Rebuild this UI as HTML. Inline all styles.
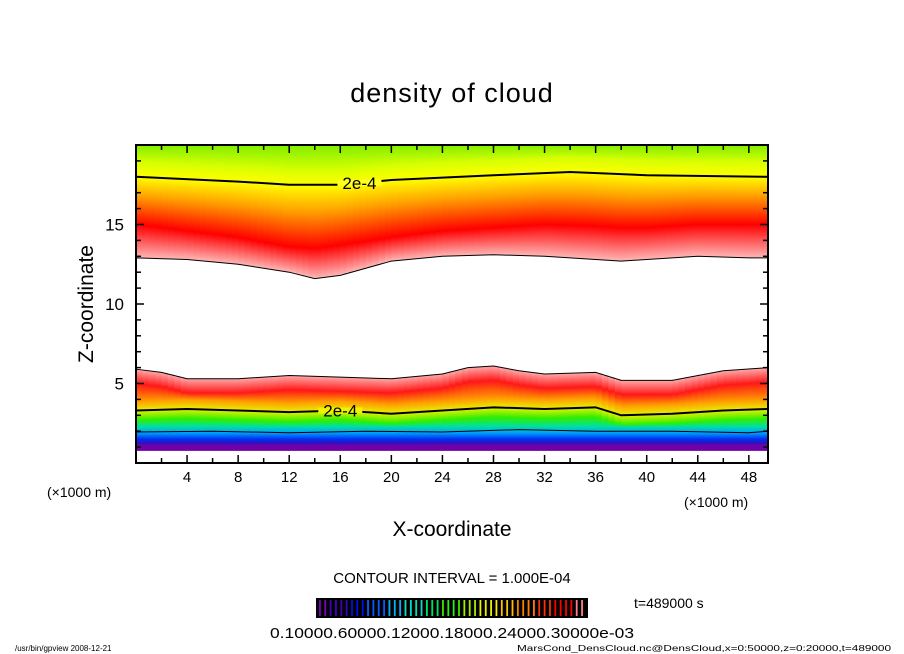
<!DOCTYPE html>
<html><head><meta charset="utf-8"><style>
html,body{margin:0;padding:0;background:#fff;}
svg{display:block;font-family:"Liberation Sans",sans-serif;}
</style></head><body>
<svg id="chart" width="904" height="654" viewBox="0 0 904 654" xmlns="http://www.w3.org/2000/svg">
<defs id="defs"></defs>
<g id="plot"></g>
<text x="452" y="102" text-anchor="middle" font-size="27" fill="#000" letter-spacing="1">density of cloud</text>
<text transform="translate(93,304) rotate(-90)" text-anchor="middle" font-size="21" fill="#000">Z-coordinate</text>
<text x="452" y="536" text-anchor="middle" font-size="21" fill="#000">X-coordinate</text>
<text x="47" y="497" font-size="14" fill="#000">(×1000 m)</text>
<text x="684" y="507" font-size="14" fill="#000">(×1000 m)</text>
<text x="452" y="583" text-anchor="middle" font-size="15" fill="#000">CONTOUR INTERVAL = 1.000E-04</text>
<text x="634" y="608" font-size="14" fill="#000">t=489000 s</text>
<g id="cbar"></g>
<text x="452" y="638" text-anchor="middle" font-size="15" fill="#000" textLength="364" lengthAdjust="spacingAndGlyphs">0.10000.60000.12000.18000.24000.30000e-03</text>
<text x="15" y="651" font-size="8" fill="#000">/usr/bin/gpview  2008-12-21</text>
<text x="517" y="651" font-size="8" fill="#000" textLength="374" lengthAdjust="spacingAndGlyphs">MarsCond_DensCloud.nc@DensCloud,x=0:50000,z=0:20000,t=489000</text>
</svg>
<script>
// ---- data (x in km, z in km) ----
const upperX = [0,4,8,12,14,16,20,24,28,32,36,38,40,44,48,50];
const upperEdge = [12.9,12.8,12.5,12.0,11.6,11.8,12.7,13.0,13.1,13.0,12.8,12.7,12.8,13.0,12.9,12.9];
const upperPeak = [15.0,14.6,14.2,13.6,13.5,13.7,14.2,14.6,14.8,15.0,14.9,14.8,14.8,15.0,15.0,15.0];
const upperContourX = [0,8,12,16,20,28,34,40,50];
const upperContour = [18.0,17.7,17.5,17.5,17.8,18.1,18.3,18.1,18.0];
const lowerX = [0,2,4,8,12,16,20,24,26,28,30,32,36,38,42,46,50];
const lowerEdge = [5.9,5.7,5.3,5.3,5.5,5.4,5.3,5.6,6.0,6.1,5.8,5.6,5.7,5.2,5.2,5.8,6.0];
const lowerContourX = [0,4,8,12,16,20,24,28,32,36,38,42,46,50];
const lowerContour = [3.3,3.4,3.3,3.2,3.3,3.1,3.3,3.5,3.4,3.5,3.0,3.1,3.3,3.4];
const lowerThinX = [0,6,12,18,24,30,36,42,48,50];
const lowerThin = [1.95,2.0,1.9,2.0,1.95,2.1,2.0,2.0,1.9,2.0];
const xTickLabels = [4,8,12,16,20,24,28,32,36,40,44,48];
const yTickLabels = [5,10,15];
const cbarLevels = 50;

const X0=136,X1=768,Y0=145,Y1=463,XMAX=49.5,ZMAX=20;
const sx=x=>X0+(x/XMAX)*(X1-X0);
const sy=z=>Y1-(z/ZMAX)*(Y1-Y0);
function interp(xs,ys,x){if(x<=xs[0])return ys[0];for(let i=1;i<xs.length;i++){if(x<=xs[i]){const t=(x-xs[i-1])/(xs[i]-xs[i-1]);return ys[i-1]+t*(ys[i]-ys[i-1]);}}return ys[ys.length-1];}
const NS='http://www.w3.org/2000/svg';
const mk=(t,a,p)=>{const e=document.createElementNS(NS,t);for(const k in a)e.setAttribute(k,a[k]);(p||plot).appendChild(e);return e;};
const plot=document.getElementById('plot'),defs=document.getElementById('defs');
const off=z=>Math.max(0,Math.min(1,(ZMAX-z)/ZMAX));

const cols=99;
for(let i=0;i<cols;i++){
  const xa=i*XMAX/cols,xb=(i+1)*XMAX/cols,xm=(xa+xb)/2;
  const ue=interp(upperX,upperEdge,xm),up=interp(upperX,upperPeak,xm),uc=interp(upperContourX,upperContour,xm);
  const le=interp(lowerX,lowerEdge,xm),lc=interp(lowerContourX,lowerContour,xm);
  const stops=[[20,'#80ee00'],[uc+0.9,'#d8ff00'],[uc,'#ffff00'],[(uc+up)/2+0.3,'#ffa000'],[up,'#ff0000'],[ue+0.02,'#ffb4b4'],[ue-0.01,'#ffffff'],
    [le+0.01,'#ffffff'],[le,'#ffa8a8'],[le-0.9,'#ff1818'],[lc+0.6,'#ff9a00'],[lc,'#e8f000'],[lc-0.6,'#30ee00'],[2.3,'#00e0a0'],[1.9,'#00a0ff'],[1.5,'#0030f0'],[1.25,'#3010c0'],[1.1,'#7000a8'],[0.78,'#7000a8'],[0.74,'#ffffff'],[0,'#ffffff']];
  const g=mk('linearGradient',{id:'g'+i,gradientUnits:'userSpaceOnUse',x1:0,y1:Y0,x2:0,y2:Y1},defs);
  stops.forEach(s=>mk('stop',{offset:off(s[0]),'stop-color':s[1]},g));
  const r=mk('rect',{x:sx(xa),y:Y0,width:sx(xb)-sx(xa)+0.6,height:Y1-Y0,fill:'url(#g'+i+')'});
  
  
}
function line(xs,ys,w,name){
  const pts=xs.map((x,i)=>sx(Math.min(x,XMAX))+','+sy(ys[i])).join(' ');
  const l=mk('polyline',{points:pts,fill:'none',stroke:'#000','stroke-width':w});
  
  
}
line(upperContourX,upperContour,2,'upper-contour-2e-4');
line(upperX,upperEdge,1,'upper-edge-contour');
line(lowerX,lowerEdge,1,'lower-edge-contour');
line(lowerContourX,lowerContour,2,'lower-contour-2e-4');
line(lowerThinX,lowerThin,1,'lower-thin-contour');
function lab(x,zs,xs,name){
  const z=interp(xs,zs,x);
  const t=mk('text',{x:sx(x),y:sy(z)+6,'text-anchor':'middle','font-size':17,fill:'#000'});
  t.textContent='2e-4';
  
  
}
[[17.5,upperContour,upperContourX,'upper-contour-label'],[16,lowerContour,lowerContourX,'lower-contour-label']].forEach(a=>{
  const z=interp(a[2],a[1],a[0]);
  const c=mk('rect',{x:sx(a[0])-22,y:sy(z)-3,width:44,height:6,fill:a[3].startsWith('upper')?'#ffff20':'#f0f000'});
  lab(a[0],a[1],a[2],a[3]);
});
const fr=mk('rect',{x:X0,y:Y0,width:X1-X0,height:Y1-Y0,fill:'none',stroke:'#000','stroke-width':2});


for(let x=2;x<XMAX;x+=2){const big=x%4===0;
  mk('line',{x1:sx(x),x2:sx(x),y1:Y1,y2:Y1-(big?8:5),stroke:'#000','stroke-width':1.5});
  mk('line',{x1:sx(x),x2:sx(x),y1:Y0,y2:Y0+(big?8:5),stroke:'#000','stroke-width':1.5});}
for(let z=1;z<ZMAX;z++){const big=z%5===0;
  mk('line',{x1:X0,x2:X0+(big?8:5),y1:sy(z),y2:sy(z),stroke:'#000','stroke-width':1.5});
  mk('line',{x1:X1,x2:X1-(big?8:5),y1:sy(z),y2:sy(z),stroke:'#000','stroke-width':1.5});}
xTickLabels.forEach(v=>{const t=mk('text',{x:sx(v),y:482,'text-anchor':'middle','font-size':15,fill:'#000'});t.textContent=v;
  
  });
yTickLabels.forEach(v=>{const t=mk('text',{x:124,y:sy(v)+6,'text-anchor':'end','font-size':17,fill:'#000'});t.textContent=v;
  
  });
const cb=document.getElementById('cbar');
mk('rect',{x:316,y:598,width:272,height:20,fill:'#000'},cb);
const pal=['#8000c0','#4000c0','#0010e0','#0060ff','#00b0ff','#00e0c0','#00e060','#30ee00','#a0f000','#f0f000','#ffc000','#ff8000','#ff3000','#ff0000','#ff8080'];
for(let i=0;i<cbarLevels;i++){const f=i/(cbarLevels-1);const c=pal[Math.round(f*(pal.length-1))];
  mk('rect',{x:319+i*5.35,y:600,width:1.8,height:16,fill:c},cb);}
</script>
</body></html>
